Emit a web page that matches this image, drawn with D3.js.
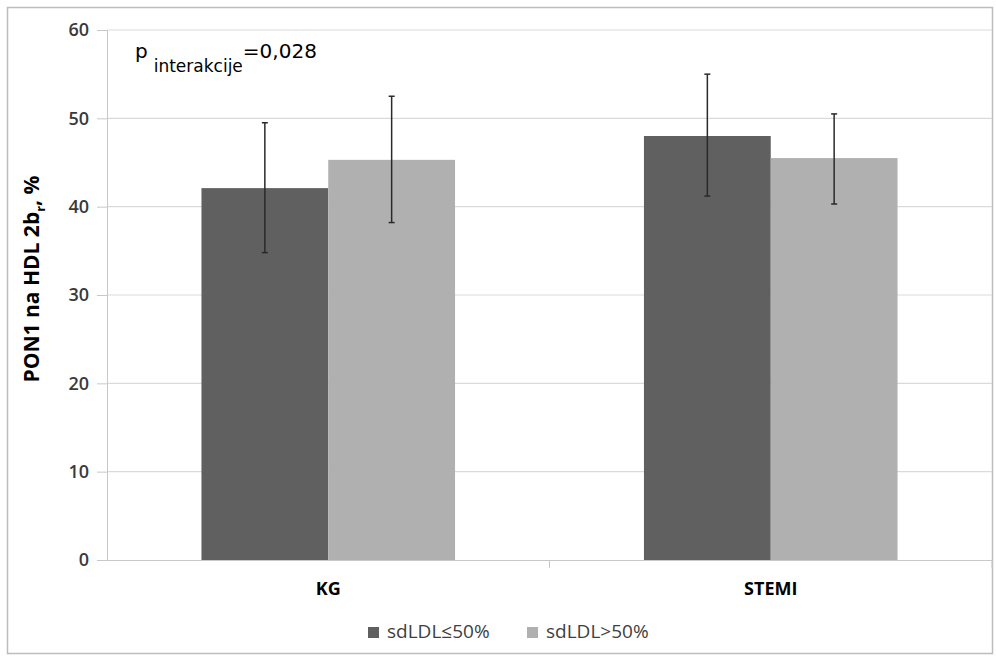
<!DOCTYPE html>
<html>
<head>
<meta charset="utf-8">
<script src="https://cdn.jsdelivr.net/npm/d3@7/dist/d3.min.js"></script>
<style>
  body { margin: 0; background: #fff; }
  text { font-family: "Open Sans", "Noto Sans", sans-serif; }
</style>
</head>
<body>
<div id="chart"></div>
<script>
// values
const categories = ['KG', 'STEMI'];
const seriesNames = ['sdLDL≤50%', 'sdLDL>50%'];
const seriesColors = ['#606060', '#b0b0b0'];
const means = [[42.1, 45.3], [48.0, 45.5]];
const errLow = [[34.8, 38.2], [41.2, 40.3]];
const errHigh = [[49.5, 52.5], [55.0, 50.5]];
const yTicks = [0, 10, 20, 30, 40, 50, 60];

const width = 996, height = 659;
const margin = { top: 30, right: 4, bottom: 99, left: 107 };

const svg = d3.select('#chart').append('svg')
  .attr('width', width)
  .attr('height', height);

// outer frame
svg.append('rect')
  .attr('x', 7.5).attr('y', 7.5)
  .attr('width', 985).attr('height', 646)
  .attr('fill', 'none')
  .attr('stroke', '#bdbdbd')
  .attr('stroke-width', 1.5);

const x = d3.scaleBand()
  .domain(categories)
  .range([margin.left, width - margin.right]);

const xInner = d3.scaleBand()
  .domain(seriesNames)
  .range([0, x.bandwidth()])
  .paddingOuter(0.745);

const y = d3.scaleLinear()
  .domain([0, 60])
  .range([height - margin.bottom, margin.top]);

const g = svg.append('g');

// gridlines
g.append('g').selectAll('line')
  .data(yTicks.filter(d => d > 0))
  .enter().append('line')
  .attr('x1', margin.left).attr('x2', width - margin.right)
  .attr('y1', d => y(d)).attr('y2', d => y(d))
  .attr('stroke', '#dadada')
  .attr('stroke-width', 1.2);

// y axis
const yAxis = g.append('g')
  .attr('transform', 'translate(' + margin.left + ',0)')
  .call(d3.axisLeft(y).tickValues(yTicks).tickSize(10).tickPadding(8));
yAxis.select('.domain').attr('stroke', '#c8c8c8');
yAxis.selectAll('.tick line').attr('stroke', '#c8c8c8');
yAxis.selectAll('.tick text')
  .attr('fill', '#3a3a3a')
  .style('font-size', '18px')
  .style('font-weight', '600');

// x axis
const xAxis = g.append('g')
  .attr('transform', 'translate(0,' + y(0) + ')')
  .call(d3.axisBottom(x).tickSize(0).tickPadding(22));
xAxis.select('.domain').attr('stroke', '#c8c8c8').attr('stroke-width', 1.2);
xAxis.selectAll('.tick text')
  .attr('fill', '#000')
  .style('font-size', '18px')
  .style('font-weight', '700');

// category separator ticks
g.append('g').selectAll('line')
  .data([x.range()[0] + x.bandwidth(), x.range()[1]])
  .enter().append('line')
  .attr('x1', d => d).attr('x2', d => d)
  .attr('y1', y(0)).attr('y2', y(0) + 8)
  .attr('stroke', '#c8c8c8');

// bars
const groups = g.append('g').selectAll('g')
  .data(categories)
  .enter().append('g')
  .attr('transform', d => 'translate(' + x(d) + ',0)');

groups.selectAll('rect')
  .data((c, i) => seriesNames.map((s, j) => ({ s: s, j: j, v: means[i][j] })))
  .enter().append('rect')
  .attr('x', d => xInner(d.s))
  .attr('width', xInner.bandwidth())
  .attr('y', d => y(d.v))
  .attr('height', d => y(0) - y(d.v))
  .attr('fill', d => seriesColors[d.j]);

// error bars
const errs = groups.selectAll('g.err')
  .data((c, i) => seriesNames.map((s, j) => ({ s: s, lo: errLow[i][j], hi: errHigh[i][j] })))
  .enter().append('g')
  .attr('class', 'err')
  .attr('transform', d => 'translate(' + (xInner(d.s) + xInner.bandwidth() / 2) + ',0)');

errs.append('line')
  .attr('y1', d => y(d.lo)).attr('y2', d => y(d.hi))
  .attr('stroke', '#2a2a2a').attr('stroke-width', 1.5);
errs.append('line')
  .attr('x1', -3).attr('x2', 3)
  .attr('y1', d => y(d.hi)).attr('y2', d => y(d.hi))
  .attr('stroke', '#2a2a2a').attr('stroke-width', 1.5);
errs.append('line')
  .attr('x1', -3).attr('x2', 3)
  .attr('y1', d => y(d.lo)).attr('y2', d => y(d.lo))
  .attr('stroke', '#2a2a2a').attr('stroke-width', 1.5);

// y axis title
const yt = svg.append('text')
  .attr('transform', 'translate(39,' + 279 + ') rotate(-90)')
  .attr('text-anchor', 'middle')
  .attr('fill', '#000')
  .style('font-size', '21px')
  .style('font-weight', '700');
yt.append('tspan').text('PON1 na HDL 2b');
yt.append('tspan').attr('dy', 6).style('font-size', '13px').text('r');
yt.append('tspan').attr('dy', -6).text(', %');

// annotation
const ann = svg.append('text')
  .attr('x', 135).attr('y', 58)
  .attr('fill', '#000')
  .style('font-family', '"DejaVu Sans", sans-serif')
  .style('font-size', '20px');
ann.append('tspan').text('p');
ann.append('tspan').attr('dx', 6).attr('dy', 14).style('font-size', '17px').text('interakcije');
ann.append('tspan').attr('dy', -14).text('=0,028');

// legend
const legend = svg.append('g')
  .attr('transform', 'translate(368,627)');
const li = legend.selectAll('g')
  .data(seriesNames)
  .enter().append('g')
  .attr('transform', (d, i) => 'translate(' + (i * 159) + ',0)');
li.append('rect')
  .attr('width', 11).attr('height', 11)
  .attr('fill', (d, i) => seriesColors[i]);
li.append('text')
  .attr('x', 19).attr('y', 11)
  .attr('fill', '#404040')
  .style('font-size', '19px')
  .text(d => d);
</script>
</body>
</html>
